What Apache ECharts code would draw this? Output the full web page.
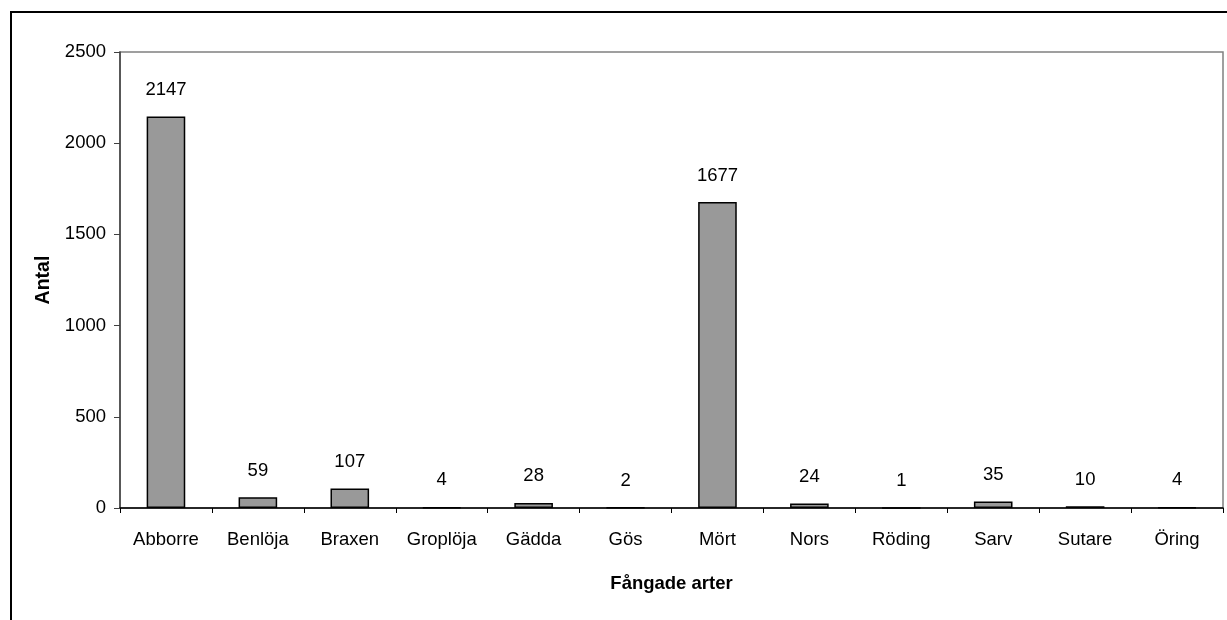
<!DOCTYPE html>
<html>
<head>
<meta charset="utf-8">
<script src="https://cdn.jsdelivr.net/npm/echarts@6/dist/echarts.min.js"></script>
<style>
  html, body { margin: 0; padding: 0; background: #fff; }
  #chart { width: 1227px; height: 620px; }
</style>
</head>
<body>
<div id="chart"></div>
<script>
// Fångade arter – antal individer per art
const categories = ['Abborre', 'Benlöja', 'Braxen', 'Groplöja', 'Gädda', 'Gös', 'Mört', 'Nors', 'Röding', 'Sarv', 'Sutare', 'Öring'];
const counts = [2147, 59, 107, 4, 28, 2, 1677, 24, 1, 35, 10, 4];
const yTicks = [0, 500, 1000, 1500, 2000, 2500];

const FONT = "'Liberation Sans', Arial, sans-serif";
const FS = 18.5;

const chart = echarts.init(document.getElementById('chart'), null, { renderer: 'canvas' });

chart.setOption({
  animation: false,
  backgroundColor: '#ffffff',
  textStyle: { fontFamily: FONT, color: '#000' },
  graphic: [{
    type: 'rect',
    shape: { x: 11, y: 12, width: 1400, height: 800 },
    style: { fill: 'none', stroke: '#000', lineWidth: 2 },
    silent: true,
    z: 0
  }],
  grid: {
    left: 120, top: 52, right: 4, bottom: 112,
    show: true,
    borderColor: '#808080',
    borderWidth: 1.5,
    backgroundColor: 'transparent'
  },
  xAxis: {
    type: 'category',
    data: categories,
    name: 'Fångade arter',
    nameLocation: 'middle',
    nameGap: 66,
    nameTextStyle: { fontFamily: FONT, fontSize: FS, fontWeight: 'bold', color: '#000' },
    axisLine: { lineStyle: { color: '#000', width: 1.5 } },
    axisTick: { show: true, length: 5, alignWithLabel: false, lineStyle: { color: '#000', width: 1 } },
    axisLabel: { fontFamily: FONT, fontSize: FS, color: '#000', margin: 22, interval: 0 },
    splitLine: { show: false }
  },
  yAxis: {
    type: 'value',
    min: yTicks[0],
    max: yTicks[yTicks.length - 1],
    interval: yTicks[1] - yTicks[0],
    name: 'Antal',
    nameLocation: 'middle',
    nameRotate: 90,
    nameGap: 61,
    nameTextStyle: { fontFamily: FONT, fontSize: 19.5, fontWeight: 'bold', color: '#000' },
    axisLine: { show: true, lineStyle: { color: '#404040', width: 1.5 } },
    axisTick: { show: true, length: 6, inside: false, lineStyle: { color: '#404040', width: 1 } },
    axisLabel: { fontFamily: FONT, fontSize: FS, color: '#000', margin: 14, formatter: v => String(v) },
    splitLine: { show: false }
  },
  series: [{
    type: 'bar',
    data: counts,
    barWidth: '42%',
    itemStyle: { color: '#999999', borderColor: '#000', borderWidth: 1.5 },
    label: {
      show: true,
      position: 'top',
      distance: 17,
      fontFamily: FONT,
      fontSize: FS,
      color: '#000'
    }
  }]
});
</script>
</body>
</html>
